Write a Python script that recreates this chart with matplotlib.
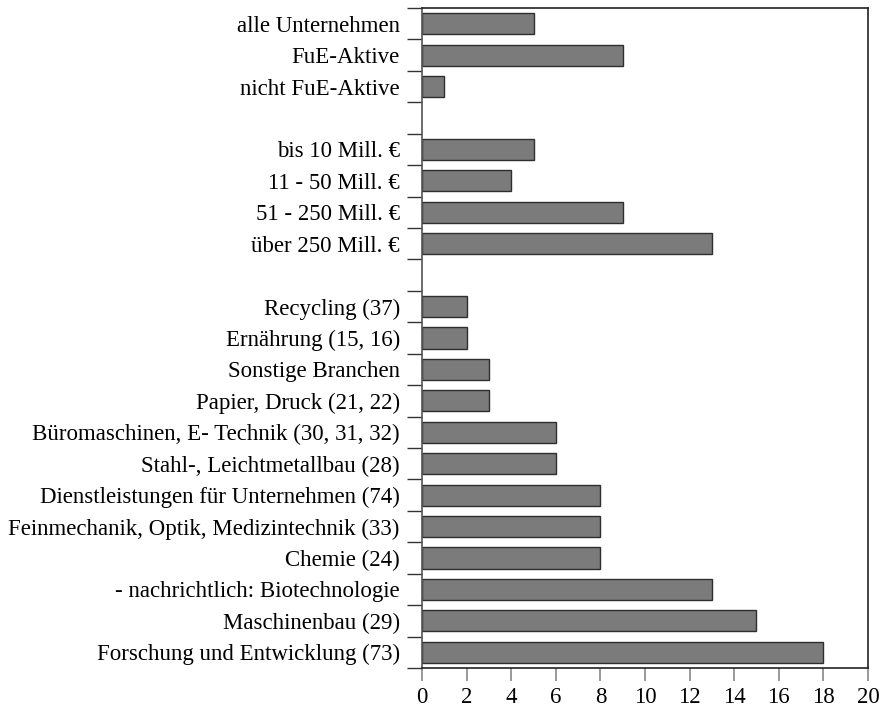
import matplotlib.pyplot as plt
import numpy as np

plt.rcParams.update({'font.family': 'Liberation Serif', 'font.size': 16.5})

categories = ['alle Unternehmen', 'FuE-Aktive', 'nicht FuE-Aktive', '',
              'bis 10 Mill. €', '11 - 50 Mill. €', '51 - 250 Mill. €', 'über 250 Mill. €', '',
              'Recycling (37)', 'Ernährung (15, 16)', 'Sonstige Branchen', 'Papier, Druck (21, 22)',
              'Büromaschinen, E- Technik (30, 31, 32)', 'Stahl-, Leichtmetallbau (28)',
              'Dienstleistungen für Unternehmen (74)', 'Feinmechanik, Optik, Medizintechnik (33)',
              'Chemie (24)', '- nachrichtlich: Biotechnologie', 'Maschinenbau (29)',
              'Forschung und Entwicklung (73)']
values = [5, 9, 1, None,
          5, 4, 9, 13, None,
          2, 2, 3, 3, 6, 6, 8, 8, 8, 13, 15, 18]
xticks = [0, 2, 4, 6, 8, 10, 12, 14, 16, 18, 20]

fig = plt.figure(figsize=(8.82, 7.1), dpi=100)
ax = fig.add_axes([0.4785, 0.0592, 0.5056, 0.9295])

pos = [i for i, v in enumerate(values) if v is not None]
vals = [values[i] for i in pos]
ax.barh(pos, vals, height=0.67, color='#7b7b7b', edgecolor='#2e2e2e', linewidth=1.0, zorder=2)

ax.set_ylim(len(categories) - 0.5, -0.5)
ax.set_xlim(0, 20)
ax.set_yticks(range(len(categories)))
ax.set_yticklabels(categories)
ax.tick_params(axis='y', which='major', length=0, pad=16)
ax.set_yticks(np.arange(len(categories) + 1) - 0.5, minor=True)
ax.tick_params(axis='y', which='minor', length=11, width=1.0, color='#333333')
ax.set_xticks(xticks)
ax.tick_params(axis='x', length=9.5, width=1.2, color='#888888', pad=4.5)

for s in ['top', 'right']:
    ax.spines[s].set_color('#222222')
ax.spines['left'].set_color('#555555')
ax.spines['bottom'].set_color('#222222')
for s in ax.spines.values():
    s.set_linewidth(1.2)

fig.savefig('out.png', dpi=100)
